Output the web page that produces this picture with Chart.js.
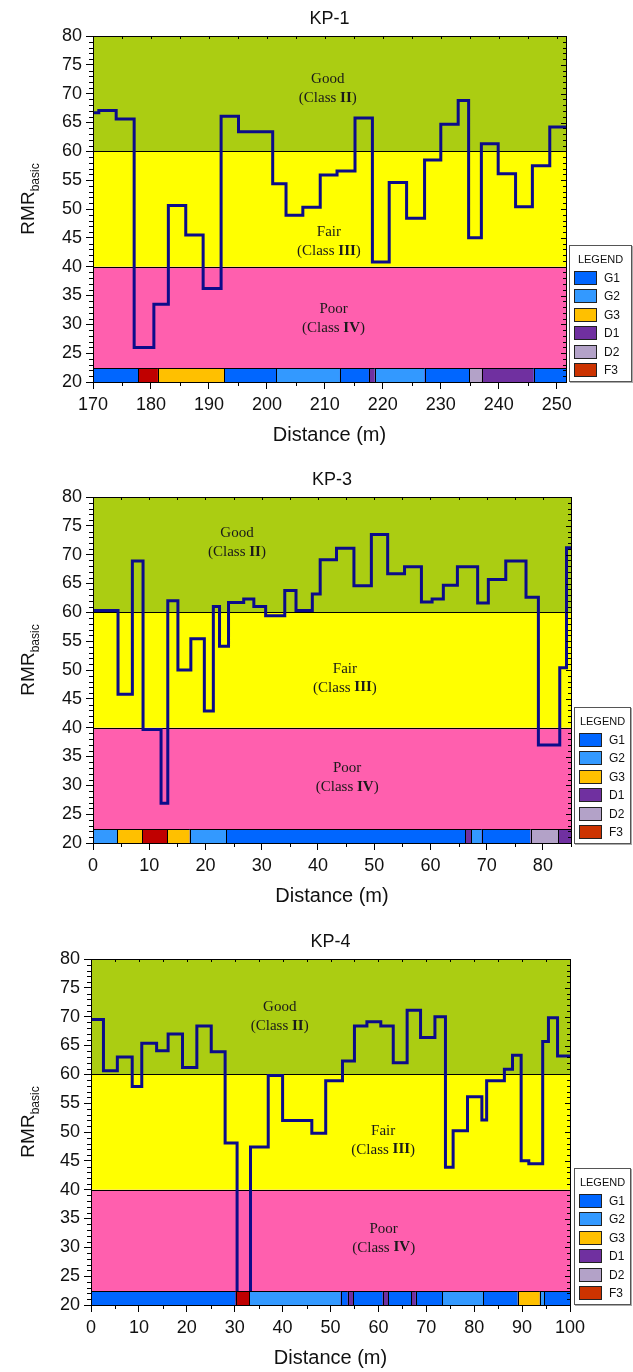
<!DOCTYPE html>
<html>
<head>
<meta charset="utf-8">
<script src="https://cdn.jsdelivr.net/npm/chart.js@4.4.1/dist/chart.umd.min.js"></script>
<style>
  body { margin: 0; background: #fff; width: 633px; height: 1372px; position: relative; overflow: hidden;
         font-family: "Liberation Sans", Arial, sans-serif; }
  canvas { position: absolute; left: 0; }
  .legend { position: absolute; box-sizing: border-box; height: 137px; background: #fff;
            border: 1px solid #555; box-shadow: 1px 1px 0 #aaa; }
  .legend .ttl { position: absolute; left: 0; right: 0; top: 7px; text-align: center; font-size: 11px; color: #111; }
  .legend .sw { position: absolute; width: 23px; height: 14px; box-sizing: border-box; border: 1px solid #222; }
  .legend .lb { position: absolute; font-size: 12px; color: #111; line-height: 14px; }
</style>
</head>
<body>
<canvas id="kp1" width="633" height="455" style="top:-1px"></canvas>
<canvas id="kp3" width="633" height="455" style="top:460px"></canvas>
<canvas id="kp4" width="633" height="455" style="top:922px"></canvas>

<script>
/* ---- data ---- */

/* KP-1 : start of each step (m) and RMR basic value */
const kp1Dist = [170, 171, 174, 177.1, 180.5, 183, 186, 189, 192.1, 195.1, 201, 203.3, 206.2, 209.2,
                 212.1, 215.2, 218.2, 221.1, 224.1, 227.2, 230, 233, 234.8, 237, 239.9, 242.9, 245.8, 248.8];
const kp1Rmr  = [66.7, 67.1, 65.6, 26, 33.5, 50.6, 45.5, 36.2, 66.1, 63.4, 54.4, 48.9, 50.3, 55.9,
                 56.6, 65.8, 40.8, 54.6, 48.4, 58.5, 64.7, 68.8, 45, 61.3, 56.1, 50.4, 57.5, 64.2];
const kp1End = 251.6;
const kp1GeoStart = [170, 177.8, 181.2, 192.6, 201.6, 212.6, 217.6, 218.6, 227.2, 234.9, 237.1, 246.0];
const kp1GeoUnit  = ['G1', 'F3', 'G3', 'G1', 'G2', 'G1', 'D1', 'G2', 'G1', 'D2', 'D1', 'G1'];

/* KP-3 */
const kp3Dist = [0, 4.45, 7.0, 8.9, 12.1, 13.3, 15.1, 17.4, 19.8, 21.4, 22.5, 24.1, 26.8, 28.6, 30.7,
                 34.1, 36.1, 39.0, 40.4, 43.3, 46.4, 49.5, 52.4, 55.4, 58.4, 60.3, 62.3, 64.8, 68.4,
                 70.3, 73.4, 77.0, 79.2, 83.0, 84.2];
const kp3Rmr  = [60.3, 45.8, 68.9, 39.7, 26.9, 62.0, 50.0, 55.4, 42.9, 61.0, 54.1, 61.7, 62.3, 61.0, 59.4,
                 63.8, 60.3, 63.2, 69.1, 71.1, 64.6, 73.5, 66.7, 67.9, 61.8, 62.3, 64.7, 67.9, 61.6,
                 65.7, 68.9, 62.6, 37.0, 50.4, 71.2];
const kp3End = 85;
const kp3GeoStart = [0, 4.3, 8.8, 13.2, 17.2, 23.7, 66.2, 67.3, 69.1, 77.8, 82.7];
const kp3GeoUnit  = ['G2', 'G3', 'F3', 'G3', 'G2', 'G1', 'D1', 'G2', 'G1', 'D2', 'D1'];

/* KP-4 */
const kp4Dist = [0, 2.6, 5.5, 8.6, 10.6, 13.7, 16.1, 19.1, 22.1, 25.1, 28.0, 30.5, 33.3, 37.0, 40.0,
                 46.1, 49.0, 52.5, 55.0, 57.6, 60.5, 63.1, 66.0, 68.8, 71.8, 74.0, 75.6, 78.6, 81.6,
                 82.6, 86.3, 88.0, 89.8, 91.4, 94.3, 95.5, 97.4];
const kp4Rmr  = [69.5, 60.6, 63.0, 57.9, 65.4, 64.1, 67.0, 61.2, 68.4, 63.9, 48.1, 21, 47.4, 59.8, 52.0,
                 49.8, 58.9, 62.3, 68.4, 69.1, 68.4, 62.0, 71.1, 66.4, 70.0, 43.9, 50.2, 56.1, 52.1,
                 58.9, 60.9, 63.3, 45.0, 44.5, 65.7, 69.8, 63.2];
const kp4End = 100;
const kp4GeoStart = [0, 30.2, 33.0, 52.1, 53.6, 54.8, 60.9, 62.1, 66.9, 67.8, 73.3, 81.9, 89.1, 93.7, 94.6];
const kp4GeoUnit  = ['G1', 'F3', 'G2', 'G1', 'D1', 'G1', 'D1', 'G1', 'D1', 'G1', 'G2', 'G1', 'G3', 'G2', 'G1'];

/* rock mass classes */
const zoneLow   = [20, 40, 60];
const zoneHigh  = [40, 60, 80];
const zoneName  = ['Poor', 'Fair', 'Good'];
const zoneClass = ['IV', 'III', 'II'];

/* legend units */
const geoUnits = ['G1', 'G2', 'G3', 'D1', 'D2', 'F3'];

/* --- styles --- */
const zoneColor = ['#ff5fae', '#ffff00', '#abcd12'];
const geoColor = { G1: '#0066ff', G2: '#3399ff', G3: '#ffc000', D1: '#7030a0', D2: '#b3a2c8', F3: '#c00000' };
const legendColor = { G1: '#0066ff', G2: '#3399ff', G3: '#ffc000', D1: '#7030a0', D2: '#b3a2c8', F3: '#cc3300' };
const STRIP_TOP = 22.4;
const SANS = '"Liberation Sans", Arial, sans-serif';
const SERIF = '"Liberation Serif", "Times New Roman", serif';

/* per chart extras (titles, strip, label spots) */
const extras = {
  kp1: { title: 'KP-1', geoStart: kp1GeoStart, geoUnit: kp1GeoUnit, end: kp1End,
         spots: [[211.5, 31.0], [210.7, 44.3], [210.5, 70.9]] },
  kp3: { title: 'KP-3', geoStart: kp3GeoStart, geoUnit: kp3GeoUnit, end: kp3End,
         spots: [[45.2, 31.4], [44.8, 48.6], [25.6, 72.1]] },
  kp4: { title: 'KP-4', geoStart: kp4GeoStart, geoUnit: kp4GeoUnit, end: kp4End,
         spots: [[61.1, 31.6], [61.0, 48.6], [39.4, 70.0]] }
};

function steps(dist, vals, end) {
  const pts = dist.map((d, i) => ({ x: d, y: vals[i] }));
  pts.push({ x: end, y: vals[vals.length - 1] });
  return pts;
}

function drawClassText(ctx, cx, cy, name, cls) {
  ctx.font = '15px ' + SERIF;
  ctx.fillStyle = '#1a1a1a';
  ctx.textBaseline = 'middle';
  ctx.textAlign = 'center';
  ctx.fillText(name, cx, cy - 9.5);
  const a = '(Class ', c = ')';
  ctx.font = '15px ' + SERIF;
  const wa = ctx.measureText(a).width, wc = ctx.measureText(c).width;
  ctx.font = 'bold 15px ' + SERIF;
  const wb = ctx.measureText(cls).width;
  let x = cx - (wa + wb + wc) / 2;
  ctx.textAlign = 'left';
  ctx.font = '15px ' + SERIF;
  ctx.fillText(a, x, cy + 9.5); x += wa;
  ctx.font = 'bold 15px ' + SERIF;
  ctx.fillText(cls, x, cy + 9.5); x += wb;
  ctx.font = '15px ' + SERIF;
  ctx.fillText(c, x, cy + 9.5);
}

const kpPlugin = {
  id: 'kp',
  beforeDatasetsDraw(chart) {
    const { ctx, chartArea: a, scales: { x, y } } = chart;
    const ex = extras[chart.canvas.id];
    ctx.save();
    zoneLow.forEach((lo, i) => {
      const top = y.getPixelForValue(zoneHigh[i]), bot = y.getPixelForValue(lo);
      ctx.fillStyle = zoneColor[i];
      ctx.fillRect(a.left, top, a.right - a.left, bot - top);
    });
    ctx.strokeStyle = '#000';
    ctx.lineWidth = 1;
    [40, 60].forEach(v => {
      const py = Math.round(y.getPixelForValue(v)) + 0.5;
      ctx.beginPath(); ctx.moveTo(a.left, py); ctx.lineTo(a.right, py); ctx.stroke();
    });
    zoneName.forEach((n, i) => {
      const s = ex.spots[i];
      drawClassText(ctx, x.getPixelForValue(s[0]), y.getPixelForValue(s[1]), n, zoneClass[i]);
    });
    ctx.restore();
  },
  afterDatasetsDraw(chart) {
    const { ctx, chartArea: a, scales: { x, y } } = chart;
    const ex = extras[chart.canvas.id];
    ctx.save();
    // geology strip
    const top = y.getPixelForValue(STRIP_TOP), bot = y.getPixelForValue(20);
    ex.geoStart.forEach((s, i) => {
      const e = i + 1 < ex.geoStart.length ? ex.geoStart[i + 1] : ex.end;
      const x0 = x.getPixelForValue(s), x1 = x.getPixelForValue(e);
      ctx.fillStyle = geoColor[ex.geoUnit[i]];
      ctx.fillRect(x0, top, x1 - x0, bot - top);
      ctx.strokeStyle = '#000';
      ctx.lineWidth = 1;
      ctx.strokeRect(Math.round(x0) + 0.5, Math.round(top) + 0.5, Math.round(x1) - Math.round(x0), Math.round(bot) - Math.round(top));
    });
    // frame
    ctx.strokeStyle = '#000';
    ctx.lineWidth = 1;
    ctx.strokeRect(Math.round(a.left) + 0.5, Math.round(a.top) + 0.5,
                   Math.round(a.right - a.left), Math.round(a.bottom - a.top));
    // minor ticks
    ctx.beginPath();
    for (let v = 20; v <= 80; v++) {
      const py = Math.round(y.getPixelForValue(v)) + 0.5;
      if (v % 5) { ctx.moveTo(a.left - 4, py); ctx.lineTo(a.left, py); }
      const len = v % 5 ? 3 : 5;
      ctx.moveTo(a.right, py); ctx.lineTo(a.right - len, py);
    }
    for (let d = Math.ceil(x.min / 5) * 5; d <= x.max; d += 5) {
      const px = Math.round(x.getPixelForValue(d)) + 0.5;
      if (d % 10) { ctx.moveTo(px, a.bottom); ctx.lineTo(px, a.bottom + 4); }
      ctx.moveTo(px, a.top); ctx.lineTo(px, a.top + 3);
    }
    ctx.stroke();
    // titles
    ctx.fillStyle = '#111';
    ctx.textAlign = 'center';
    ctx.textBaseline = 'middle';
    ctx.font = '18px ' + SANS;
    ctx.fillText(ex.title, (a.left + a.right) / 2, a.top - 17);
    ctx.font = '20px ' + SANS;
    ctx.fillText('Distance (m)', (a.left + a.right) / 2, a.bottom + 53);
    // y title with subscript
    const cy = (a.top + a.bottom) / 2 - 10;
    ctx.translate(34, cy);
    ctx.rotate(-Math.PI / 2);
    ctx.textAlign = 'left';
    ctx.textBaseline = 'alphabetic';
    ctx.font = '19px ' + SANS;
    const w1 = ctx.measureText('RMR').width;
    ctx.font = '12px ' + SANS;
    const w2 = ctx.measureText('basic').width;
    ctx.font = '19px ' + SANS;
    ctx.fillText('RMR', -(w1 + w2) / 2, 0);
    ctx.font = '12px ' + SANS;
    ctx.fillText('basic', -(w1 + w2) / 2 + w1, 5);
    ctx.restore();
  }
};

function makeChart(id, dist, vals, min, end, left, right) {
  return new Chart(document.getElementById(id), {
    type: 'line',
    data: {
      datasets: [{
        data: steps(dist, vals, end),
        stepped: true,
        borderColor: '#0c0c8a',
        borderWidth: 3,
        pointRadius: 0,
        fill: false,
        clip: 0
      }]
    },
    options: {
      responsive: false,
      animation: false,
      events: [],
      layout: { padding: { top: 37, left: 0, right: right, bottom: 32 } },
      scales: {
        x: {
          type: 'linear', min: min, max: end,
          afterBuildTicks: s => {
            const t = [];
            for (let v = Math.ceil(min / 10) * 10; v <= end + 1e-6; v += 10) t.push({ value: v });
            s.ticks = t;
          },
          afterFit: s => { s.height = 40; },
          ticks: { stepSize: 10, autoSkip: false, maxRotation: 0, padding: 5, color: '#111', font: { size: 18, family: SANS } },
          grid: { drawOnChartArea: false, tickLength: 7, color: '#000' },
          border: { display: false }
        },
        y: {
          min: 20, max: 80,
          afterFit: s => { s.width = left; },
          ticks: { stepSize: 5, padding: 4, color: '#111', font: { size: 18, family: SANS } },
          grid: { drawOnChartArea: false, tickLength: 7, color: '#000' },
          border: { display: false }
        }
      },
      plugins: { legend: { display: false }, tooltip: { enabled: false } }
    },
    plugins: [kpPlugin]
  });
}

function makeLegend(left, top, width) {
  const box = document.createElement('div');
  box.className = 'legend';
  box.style.left = left + 'px';
  box.style.top = top + 'px';
  box.style.width = width + 'px';
  const t = document.createElement('div');
  t.className = 'ttl';
  t.textContent = 'LEGEND';
  box.appendChild(t);
  geoUnits.forEach((u, i) => {
    const sw = document.createElement('div');
    sw.className = 'sw';
    sw.style.left = '4px';
    sw.style.top = (25 + i * 18.4) + 'px';
    sw.style.background = legendColor[u];
    box.appendChild(sw);
    const lb = document.createElement('div');
    lb.className = 'lb';
    lb.style.left = '34px';
    lb.style.top = (25 + i * 18.4) + 'px';
    lb.textContent = u;
    box.appendChild(lb);
  });
  document.body.appendChild(box);
}

makeChart('kp1', kp1Dist, kp1Rmr, 170, kp1End, 93, 67);
makeChart('kp3', kp3Dist, kp3Rmr, 0, kp3End, 93, 62);
makeChart('kp4', kp4Dist, kp4Rmr, 0, kp4End, 91, 63);

makeLegend(569, 245, 63);
makeLegend(574, 707, 57);
makeLegend(574, 1168, 57);
</script>
</body>
</html>
